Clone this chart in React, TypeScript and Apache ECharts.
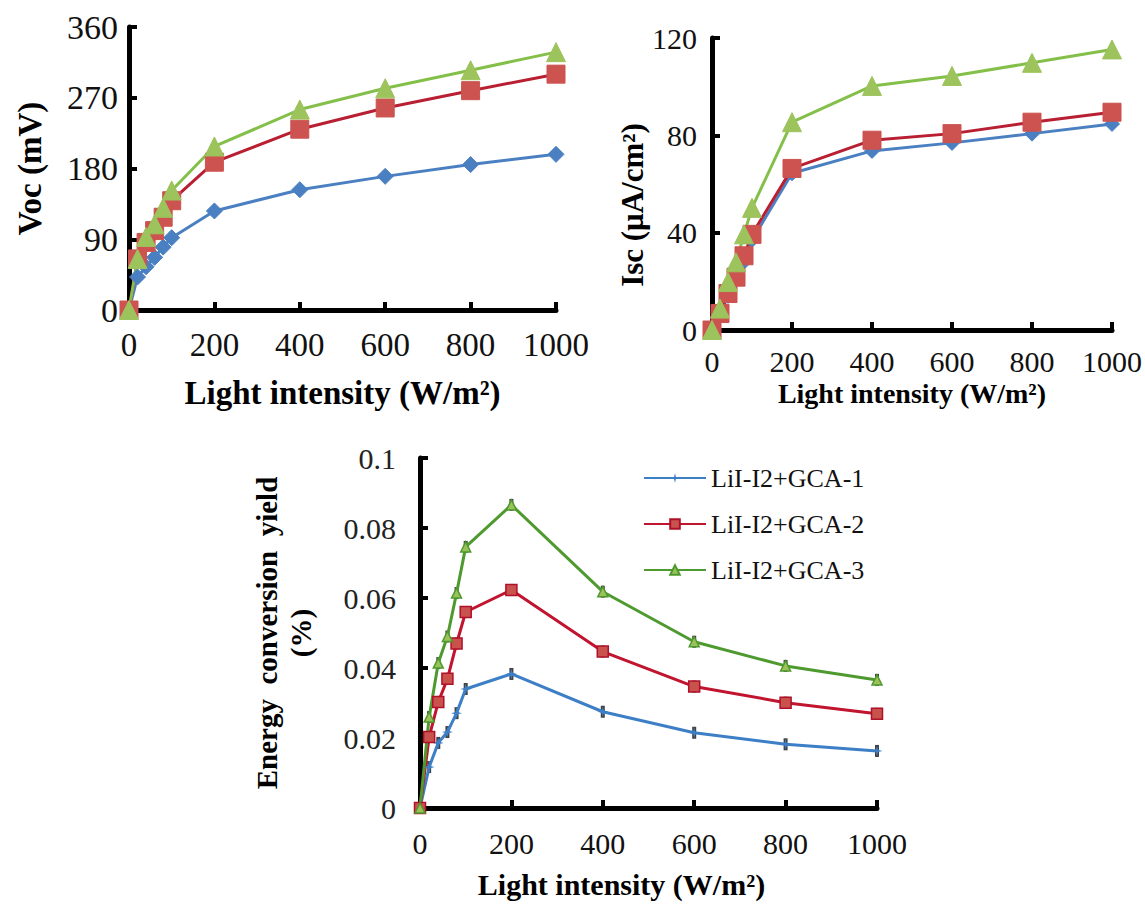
import React, { useEffect, useRef } from "react";
import * as echarts from "echarts";

const intensity = [0, 20, 40, 60, 80, 100, 200, 400, 600, 800, 1000];
const xTicks = [0, 200, 400, 600, 800, 1000];
const seriesNames = ["LiI-I2+GCA-1", "LiI-I2+GCA-2", "LiI-I2+GCA-3"];

const voc1 = [0, 42, 55, 67, 80, 92, 126, 153, 170, 185, 198];
const voc2 = [0, 65, 86, 101, 118, 139, 188, 230, 257, 279, 300];
const voc3 = [0, 65, 93, 109, 130, 152, 208, 255, 282, 305, 328];

const isc1 = [0, 6.5, 14, 21, 28, 37, 64.4, 73.6, 76.9, 80.7, 84.7];
const isc2 = [0, 6.8, 15, 21.7, 30.5, 39.3, 66.4, 78, 80.7, 85.4, 89.5];
const isc3 = [0, 8.8, 19.7, 27.8, 39.3, 50.2, 85.4, 100.3, 104.4, 109.8, 115.3];

const eff1 = [0, 0.0117, 0.0186, 0.0217, 0.0271, 0.034, 0.0383, 0.0275, 0.0215, 0.0182, 0.0163];
const eff2 = [0, 0.0203, 0.0303, 0.0369, 0.047, 0.056, 0.0623, 0.0447, 0.0347, 0.0301, 0.0269];
const eff3 = [0, 0.026, 0.0414, 0.049, 0.0614, 0.0746, 0.0866, 0.0618, 0.0475, 0.0406, 0.0366];

const FONT = "'Liberation Serif', 'Times New Roman', serif";

const pair = (ys: number[]) => intensity.map((x, i) => [x, ys[i]]);

export default function App() {
  const ref = useRef<HTMLDivElement>(null);
  useEffect(() => {
    if (!ref.current) return;
    const chart = echarts.init(ref.current, null, { renderer: "svg" });

    const axisCommon = {
      axisLine: { show: true, onZero: false, lineStyle: { color: "#000", width: 5 } },
      axisTick: { show: true, inside: true, length: 8, lineStyle: { color: "#000", width: 4 } },
      splitLine: { show: false },
    };
    const xAxis = (gridIndex: number, fontSize: number, margin: number, nameGap: number, nameSize: number, pad: number[]) => ({
      type: "value",
      gridIndex,
      min: 0,
      max: 1000,
      interval: 200,
      ...axisCommon,
      axisLabel: { fontFamily: FONT, fontSize, color: "#111", margin, formatter: (v: number) => String(v) },
      name: "Light intensity (W/m²)",
      nameLocation: "middle",
      nameGap,
      nameTextStyle: { fontFamily: FONT, fontWeight: "bold", fontSize: nameSize, color: "#000", padding: pad },
    });

    const topLine = (name: string, data: number[][], xi: number, color: string, lineColor: string, symbol: string, size: number) => ({
      name,
      type: "line",
      xAxisIndex: xi,
      yAxisIndex: xi,
      data,
      symbol,
      symbolSize: size,
      showSymbol: true,
      lineStyle: { color: lineColor, width: 3 },
      itemStyle: { color, borderColor: color },
      z: 3,
    });

    const option: any = {
      animation: false,
      backgroundColor: "#fff",
      legend: {
        data: seriesNames,
        orient: "vertical",
        left: 638,
        top: 460,
        itemWidth: 62,
        itemHeight: 12,
        itemGap: 20,
        selectedMode: false,
        textStyle: { fontFamily: FONT, fontSize: 26, color: "#111" },
      },
      grid: [
        { left: 129, top: 27, width: 427, height: 283 },
        { left: 712, top: 38, width: 403, height: 292 },
        { left: 420, top: 458, width: 457, height: 350 },
      ],
      xAxis: [
        xAxis(0, 33, 18, 66, 33, [0, 0, 0, 0]),
        xAxis(1, 30, 16, 49, 28, [0, 0, 0, 0]),
        xAxis(2, 30, 20, 61, 30, [0, 54, 0, 0]),
      ],
      yAxis: [
        {
          type: "value",
          gridIndex: 0,
          min: 0,
          max: 360,
          interval: 90,
          ...axisCommon,
          axisLabel: { fontFamily: FONT, fontSize: 34, color: "#111", margin: 11 },
          name: "Voc (mV)",
          nameLocation: "middle",
          nameGap: 83,
          nameTextStyle: { fontFamily: FONT, fontWeight: "bold", fontSize: 33, color: "#000" },
        },
        {
          type: "value",
          gridIndex: 1,
          min: 0,
          max: 120,
          interval: 40,
          ...axisCommon,
          axisLabel: { fontFamily: FONT, fontSize: 30, color: "#111", margin: 15 },
          name: "Isc (μA/cm²)",
          nameLocation: "middle",
          nameGap: 62,
          nameTextStyle: { fontFamily: FONT, fontWeight: "bold", fontSize: 31, color: "#000", padding: [0, 42, 0, 0] },
        },
        {
          type: "value",
          gridIndex: 2,
          min: 0,
          max: 0.1,
          interval: 0.02,
          ...axisCommon,
          axisLabel: { fontFamily: FONT, fontSize: 30, color: "#222", margin: 24 },
          name: "Energy  conversion  yield\n(%)",
          nameLocation: "middle",
          nameGap: 102,
          nameTextStyle: { fontFamily: FONT, fontWeight: "bold", fontSize: 29, color: "#000", lineHeight: 34, align: "center" },
        },
      ],
      series: [
        // bottom chart (first so the legend takes its style)
        {
          name: seriesNames[0], type: "line", xAxisIndex: 2, yAxisIndex: 2, data: pair(eff1),
          symbol: "path://M5,0 L6,4 L10,5 L6,6 L5,10 L4,6 L0,5 L4,4 Z", symbolSize: 11,
          lineStyle: { color: "#3d7fc6", width: 3 }, itemStyle: { color: "#3d7fc6" }, z: 3,
        },
        {
          name: seriesNames[1], type: "line", xAxisIndex: 2, yAxisIndex: 2, data: pair(eff2),
          symbol: "rect", symbolSize: 11,
          lineStyle: { color: "#c0142f", width: 3 }, itemStyle: { color: "#c9524d", borderColor: "#b0102a", borderWidth: 1.5 }, z: 3,
        },
        {
          name: seriesNames[2], type: "line", xAxisIndex: 2, yAxisIndex: 2, data: pair(eff3),
          symbol: "triangle", symbolSize: 10,
          lineStyle: { color: "#4f9a2f", width: 3 }, itemStyle: { color: "#9bc25a", borderColor: "#4f9a2f", borderWidth: 1.5 }, z: 3,
        },
        ...[eff1, eff2, eff3].map((d) => ({
          type: "scatter", xAxisIndex: 2, yAxisIndex: 2, data: pair(d).slice(1),
          symbol: "rect", symbolSize: [4, 12], itemStyle: { color: "#111" }, silent: true, z: 2,
        })),
        // top-left
        topLine(seriesNames[0], pair(voc1), 0, "#4a80c2", "#4a80c2", "diamond", 16),
        topLine(seriesNames[1], pair(voc2), 0, "#cc5350", "#b81f33", "rect", 18),
        topLine(seriesNames[2], pair(voc3), 0, "#9dc35c", "#84c049", "triangle", 19),
        // top-right
        topLine(seriesNames[0], pair(isc1), 1, "#4a80c2", "#4a80c2", "diamond", 15),
        topLine(seriesNames[1], pair(isc2), 1, "#cc5350", "#b81f33", "rect", 18),
        topLine(seriesNames[2], pair(isc3), 1, "#9dc35c", "#84c049", "triangle", 19),
      ],
    };
    chart.setOption(option);
    return () => chart.dispose();
  }, []);
  return <div ref={ref} style={{ position: "fixed", left: 0, top: 0, width: 1145, height: 904, background: "#fff" }} />;
}
